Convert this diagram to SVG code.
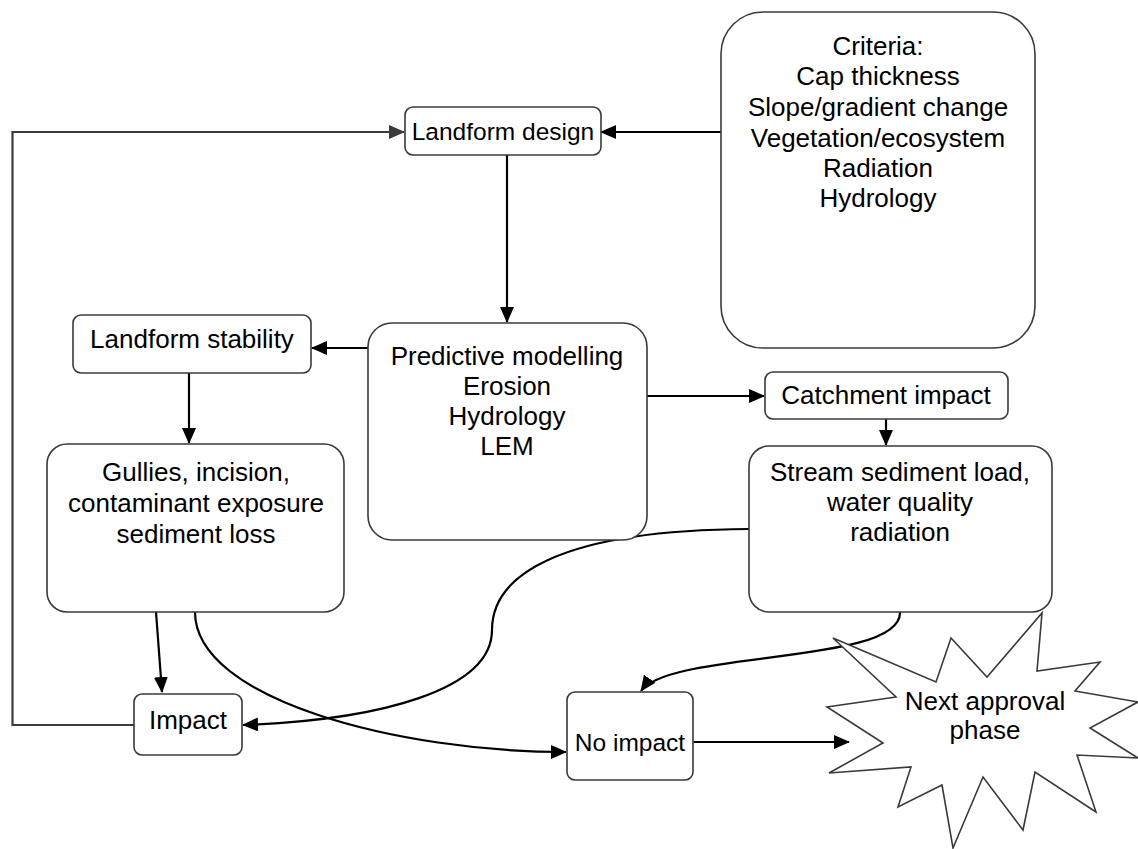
<svg xmlns="http://www.w3.org/2000/svg" width="1138" height="849" viewBox="0 0 1138 849">
<defs>
<style>
.box{fill:#fff;stroke:#3a3a3a;stroke-width:1.6}
.t{font-family:"Liberation Sans",Arial,sans-serif;font-size:26px;fill:#000;text-anchor:middle}
.s{font-size:24.5px}
.c{fill:none;stroke:#000;stroke-width:2.2}
.g{fill:none;stroke:#3a3a3a;stroke-width:2.2}
</style>
<marker id="ah" markerUnits="userSpaceOnUse" markerWidth="16" markerHeight="14" refX="15" refY="7" orient="auto">
<path d="M0,0 L16,7 L0,14 Z" fill="#000"/>
</marker>
<marker id="ahg" markerUnits="userSpaceOnUse" markerWidth="16" markerHeight="14" refX="15" refY="7" orient="auto">
<path d="M0,0 L16,7 L0,14 Z" fill="#3a3a3a"/>
</marker>
</defs>
<rect width="1138" height="849" fill="#fff"/>
<g id="connectors">
<path class="g" d="M134,725 L12.5,725 L12.5,132 L404,132" marker-end="url(#ahg)"/>
<path class="c" d="M721,132 L601,132" marker-end="url(#ah)"/>
<path class="c" d="M507,155 L507,322" marker-end="url(#ah)"/>
<path class="c" d="M368,348 L312,348" marker-end="url(#ah)"/>
<path class="c" d="M189,373 L189,443" marker-end="url(#ah)"/>
<path class="c" d="M647,396 L764,396" marker-end="url(#ah)"/>
<path class="c" d="M886,419 L886,445" marker-end="url(#ah)"/>
<path class="c" d="M156,612 L162,692" marker-end="url(#ah)"/>
<path class="c" d="M195,612 C195,700 400,752 566,752" marker-end="url(#ah)"/>
<path class="c" d="M749,529 C560,530 492,575 492,630 C492,690 380,720 243,725" marker-end="url(#ah)"/>
<path class="c" d="M900,612 C902,665 670,650 641,691" marker-end="url(#ah)"/>
<path class="c" d="M693,742 L849,742" marker-end="url(#ah)"/>
</g>
<g id="criteria">
<rect class="box" x="721" y="12" width="314" height="336" rx="42"/>
<text class="t" x="878" y="55">Criteria:</text>
<text class="t" x="878" y="85">Cap thickness</text>
<text class="t" x="878" y="116">Slope/gradient change</text>
<text class="t" x="878" y="147">Vegetation/ecosystem</text>
<text class="t" x="878" y="177">Radiation</text>
<text class="t" x="878" y="207">Hydrology</text>
</g>
<g id="landform-design">
<rect class="box" x="405" y="107" width="196" height="48" rx="8"/>
<text class="t s" x="503" y="140">Landform design</text>
</g>
<g id="landform-stability">
<rect class="box" x="73" y="315" width="238" height="58" rx="8"/>
<text class="t" x="192" y="348">Landform stability</text>
</g>
<g id="predictive">
<rect class="box" x="368" y="323" width="279" height="217" rx="24"/>
<text class="t" x="507" y="365">Predictive modelling</text>
<text class="t" x="507" y="395">Erosion</text>
<text class="t" x="507" y="425">Hydrology</text>
<text class="t" x="507" y="455">LEM</text>
</g>
<g id="catchment">
<rect class="box" x="765" y="372" width="243" height="47" rx="8"/>
<text class="t" x="886" y="404">Catchment impact</text>
</g>
<g id="gullies">
<rect class="box" x="47" y="444" width="297" height="168" rx="20"/>
<text class="t" x="196" y="481">Gullies, incision,</text>
<text class="t" x="196" y="512">contaminant exposure</text>
<text class="t" x="196" y="543">sediment loss</text>
</g>
<g id="stream">
<rect class="box" x="749" y="446" width="303" height="166" rx="20"/>
<text class="t" x="900" y="481">Stream sediment load,</text>
<text class="t" x="900" y="511">water quality</text>
<text class="t" x="900" y="541">radiation</text>
</g>
<g id="impact">
<rect class="box" x="134" y="694" width="108" height="61" rx="8"/>
<text class="t" x="188" y="729">Impact</text>
</g>
<g id="no-impact">
<rect class="box" x="567" y="692" width="126" height="88" rx="8"/>
<text class="t s" x="630" y="751">No impact</text>
</g>
<g id="next-approval">
<polygon class="box" points="1042,613 1037,671 1100,662 1075,691 1138,702 1090,728 1138,758 1077,755 1096,812 1035,772 1023,830 983,777 953,848 942,785 898,807 911,767 829,773 883,743 827,707 896,697 833,638 936,682 951,638 987,677"/>
<text class="t" x="985" y="710">Next approval</text>
<text class="t" x="985" y="739">phase</text>
</g>
</svg>
